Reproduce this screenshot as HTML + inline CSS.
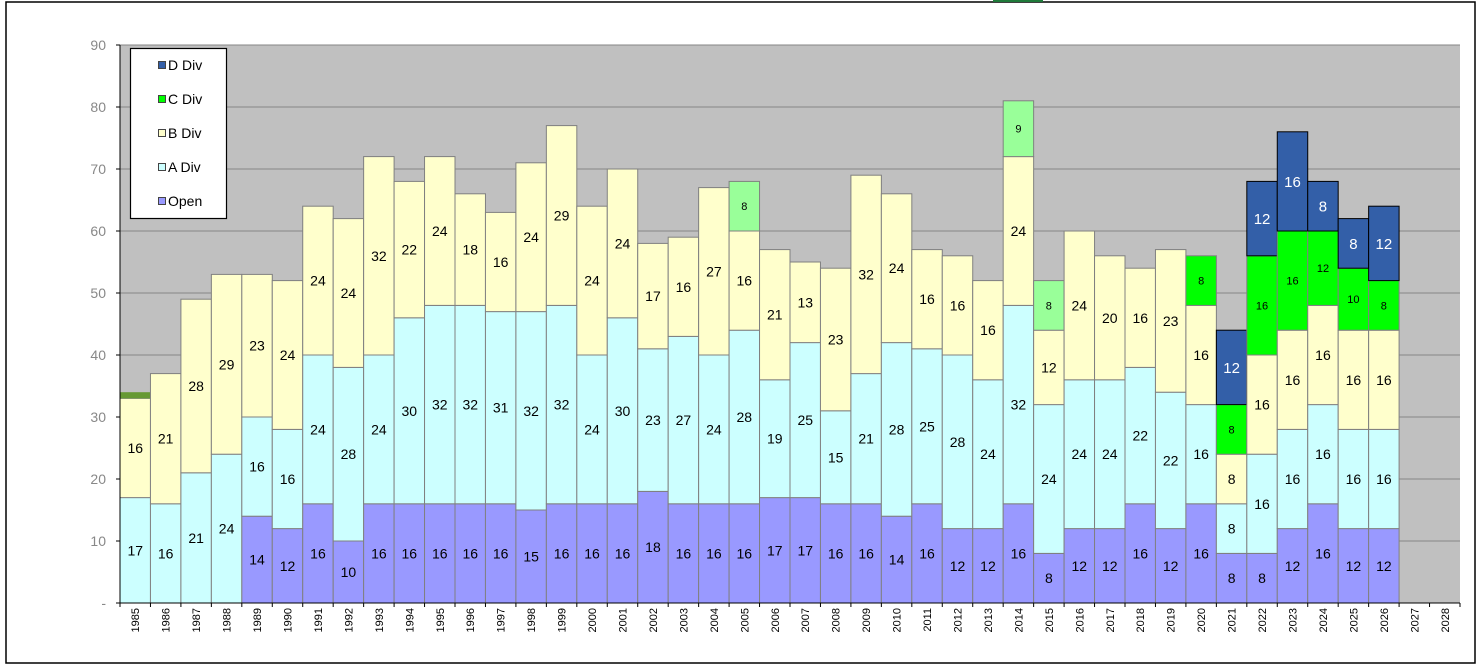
<!DOCTYPE html>
<html><head><meta charset="utf-8"><style>
html,body{margin:0;padding:0;background:#fff;}
svg{display:block;font-family:"Liberation Sans",Arial,sans-serif;}
</style></head><body>
<svg id="c" width="1478" height="667" xmlns="http://www.w3.org/2000/svg"></svg>
<script>
const svg=document.getElementById('c');
let h='';
h+='<rect x="6" y="2" width="1469" height="661" fill="#fff" stroke="#000" stroke-width="1.5"/>';
h+='<rect x="993" y="0" width="50" height="2" fill="#1f7a3a"/>';
const L=120,R=1460,T=45,B=603,u=(B-T)/90,w=(R-L)/44;
h+='<rect x="'+L+'" y="'+T+'" width="'+(R-L)+'" height="'+(B-T)+'" fill="#c0c0c0"/>';
for(let v=10;v<=90;v+=10){const y=B-v*u;h+='<line x1="'+L+'" x2="'+R+'" y1="'+y+'" y2="'+y+'" stroke="#868686" stroke-width="1"/>';}
for(let v=0;v<=90;v+=10){const y=B-v*u;h+='<line x1="'+(L-4)+'" x2="'+L+'" y1="'+y+'" y2="'+y+'" stroke="#000"/>';
h+='<text x="106" y="'+(y+5)+'" text-anchor="end" font-size="14" fill="#888" >'+(v?v:'-')+'</text>';}
const d=[[0,17,16,0,0,1],[0,16,21],[0,21,28],[0,24,29],[14,16,23],[12,16,24],[16,24,24],[10,28,24],[16,24,32],[16,30,22],[16,32,24],[16,32,18],[16,31,16],[15,32,24],[16,32,29],[16,24,24],[16,30,24],[18,23,17],[16,27,16],[16,24,27],[16,28,16,-8],[17,19,21],[17,25,13],[16,15,23],[16,21,32],[14,28,24],[16,25,16],[12,28,16],[12,24,16],[16,32,24,-9],[8,24,12,-8],[12,24,24],[12,24,20],[16,22,16],[12,22,23],[16,16,16,8],[8,8,8,8,12],[8,16,16,16,12],[12,16,16,16,16],[16,16,16,12,8],[12,16,16,10,8],[12,16,16,8,12]];
const cols=['#9999ff','#ccffff','#ffffcc','#00ff00','#335fa8'];
d.forEach((r,i)=>{const x=L+i*w;let acc=0;
 for(let k=0;k<5;k++){let v=r[k]||0;let col=cols[k];if(k==3&&v<0){v=-v;col='#99ff99';}
  if(!v)continue;const y0=B-(acc+v)*u;
  h+='<rect x="'+x+'" y="'+y0+'" width="'+w+'" height="'+(v*u)+'" fill="'+col+'" stroke="'+(k==4?'#000':'#808080')+'" stroke-width="1"/>';
  const fs=k==3?11:(k==4?15:14),fc=k==4?'#fff':'#000';
  h+='<text x="'+(x+w/2)+'" y="'+(y0+v*u/2+fs*0.36)+'" text-anchor="middle" font-size="'+fs+'" fill="'+fc+'">'+v+'</text>';
  acc+=v;}
 if(r[5]){const y0=B-(acc+1)*u;h+='<rect x="'+x+'" y="'+y0+'" width="'+w+'" height="'+u+'" fill="#669933"/>';}
});
h+='<line x1="'+L+'" x2="'+L+'" y1="'+T+'" y2="'+B+'" stroke="#000"/>';
h+='<line x1="'+L+'" x2="'+R+'" y1="'+B+'" y2="'+B+'" stroke="#000"/>';
for(let i=0;i<=44;i++){const x=L+i*w;h+='<line x1="'+x+'" x2="'+x+'" y1="'+B+'" y2="'+(B+4)+'" stroke="#000"/>';}
for(let i=0;i<44;i++){const x=L+i*w+w/2+4;h+='<text transform="translate('+x+',608) rotate(-90)" text-anchor="end" font-size="11" fill="#000">'+(1985+i)+'</text>';}
h+='<rect x="130.5" y="48.5" width="96" height="170" fill="#fff" stroke="#000" stroke-width="1.2"/>';
const lg=[['D Div','#335fa8'],['C Div','#00ff00'],['B Div','#ffffcc'],['A Div','#ccffff'],['Open','#9999ff']];
lg.forEach((g,j)=>{const y=65+j*34;h+='<rect x="158.5" y="'+(y-3.5)+'" width="7" height="7" fill="'+g[1]+'" stroke="#444"/>';
h+='<text x="168" y="'+(y+5)+'" font-size="14" fill="#000">'+g[0]+'</text>';});
svg.innerHTML=h;
</script>
</body></html>
